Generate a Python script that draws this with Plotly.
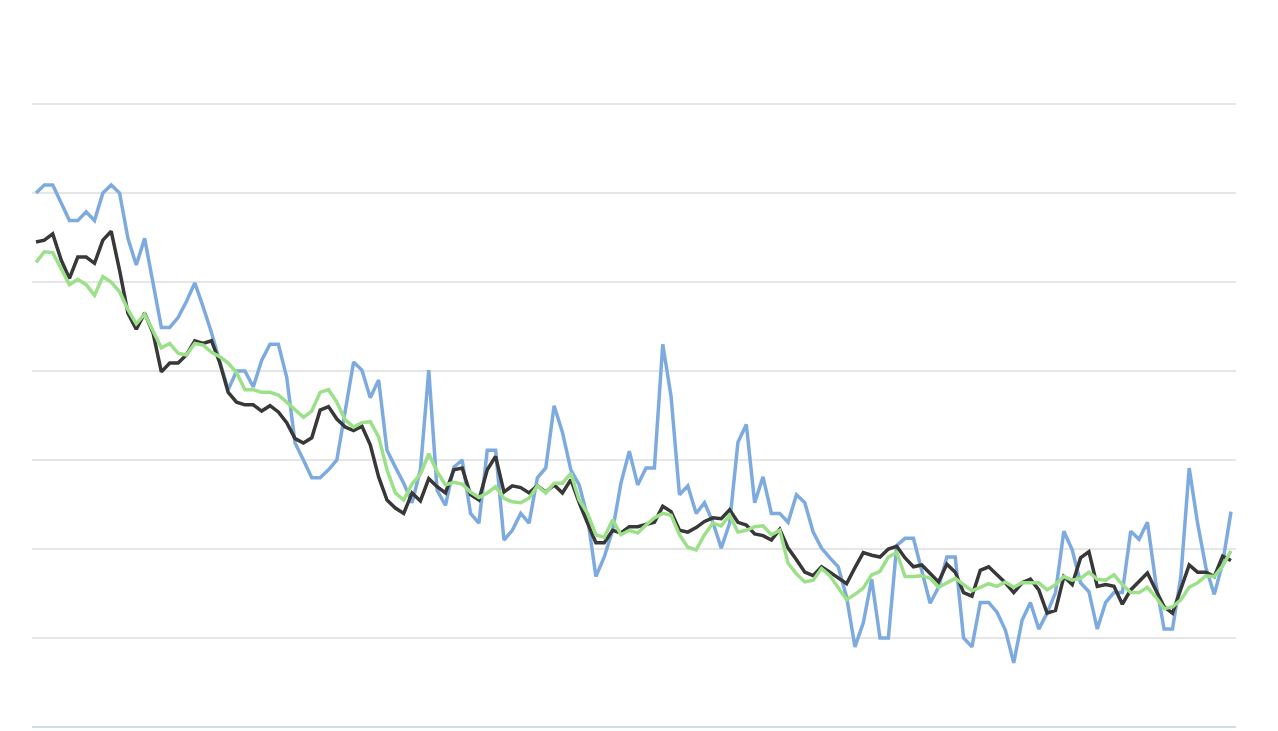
import plotly.graph_objects as go

blue = [60.0, 60.9, 60.9, 58.9, 56.9, 56.9, 57.9, 56.9, 60.0, 60.9, 60.0, 54.9, 51.9, 54.9, 49.9, 44.9,
        44.9, 46.0, 47.8, 49.9, 47.2, 44.3, 41.0, 37.9, 40.0, 40.0, 38.2, 41.2, 43.0, 43.0, 39.3, 31.9,
        30.0, 28.0, 28.0, 28.9, 30.0, 35.6, 41.0, 40.1, 37.0, 39.0, 31.1, 29.2, 27.4, 25.2, 28.9, 40.1,
        26.6, 24.9, 29.2, 30.0, 24.0, 22.9, 31.1, 31.1, 21.0, 22.1, 24.0, 22.9, 28.0, 29.1, 36.1, 33.1,
        28.9, 27.2, 23.6, 16.9, 19.1, 22.1, 27.4, 31.0, 27.2, 29.1, 29.1, 43.0, 37.1, 26.1, 27.1, 24.0,
        25.2, 23.0, 20.1, 22.9, 32.0, 34.0, 25.2, 28.1, 24.0, 24.0, 23.0, 26.1, 25.2, 21.9, 20.1, 19.0,
        18.0, 14.6, 9.0, 11.7, 16.6, 10.0, 10.0, 20.4, 21.2, 21.2, 17.6, 13.9, 15.7, 19.1, 19.1, 10.0,
        9.0, 14.0, 14.0, 12.9, 10.9, 7.2, 12.0, 14.0, 11.0, 12.8, 15.1, 22.0, 19.9, 16.2, 15.2, 11.0,
        14.0, 15.1, 15.1, 22.0, 21.1, 23.0, 16.2, 11.0, 11.0, 16.9, 29.1, 22.9, 17.9, 14.9, 18.4, 24.2]

black = [54.5, 54.7, 55.4, 52.5, 50.4, 52.8, 52.8, 52.1, 54.7, 55.7, 51.3, 46.5, 44.7, 46.5, 44.3, 39.9,
         40.9, 40.9, 41.8, 43.4, 43.1, 43.4, 40.9, 37.6, 36.5, 36.2, 36.2, 35.5, 36.1, 35.4, 34.2, 32.4,
         31.9, 32.5, 35.6, 36.0, 34.6, 33.7, 33.3, 33.8, 31.7, 28.1, 25.5, 24.6, 24.0, 26.3, 25.4, 27.9,
         27.0, 26.3, 28.9, 29.1, 26.1, 25.5, 28.9, 30.4, 26.4, 27.1, 26.9, 26.3, 27.1, 26.4, 27.2, 26.3,
         27.8, 25.2, 22.9, 20.7, 20.7, 22.1, 21.8, 22.5, 22.5, 22.8, 23.0, 24.8, 24.2, 22.1, 21.9, 22.4,
         23.1, 23.5, 23.4, 24.4, 23.0, 22.7, 21.7, 21.5, 21.0, 22.2, 20.1, 18.8, 17.4, 17.0, 18.0, 17.4,
         16.7, 16.1, 17.9, 19.6, 19.3, 19.1, 20.0, 20.3, 19.0, 18.0, 18.2, 17.2, 16.3, 18.3, 17.4, 15.1,
         14.7, 17.6, 18.0, 17.1, 16.2, 15.1, 16.2, 16.6, 15.4, 12.8, 13.1, 16.9, 16.0, 19.0, 19.7, 15.8,
         16.0, 15.8, 13.8, 15.4, 16.3, 17.3, 15.4, 13.5, 12.8, 15.5, 18.2, 17.4, 17.4, 16.9, 19.2, 18.7]

green = [52.2, 53.4, 53.3, 51.5, 49.7, 50.3, 49.7, 48.5, 50.6, 50.0, 48.9, 46.9, 45.3, 46.4, 44.6, 42.6,
         43.1, 42.0, 41.8, 43.1, 42.9, 42.1, 41.6, 40.9, 39.8, 37.9, 37.9, 37.6, 37.6, 37.3, 36.5, 35.6,
         34.8, 35.5, 37.6, 37.9, 36.5, 34.5, 33.7, 34.2, 34.3, 32.6, 28.9, 26.3, 25.5, 27.3, 28.4, 30.7,
         28.7, 27.2, 27.5, 27.3, 26.4, 25.8, 26.3, 27.0, 25.7, 25.3, 25.2, 25.7, 27.1, 26.3, 27.4, 27.4,
         28.5, 25.5, 24.0, 21.6, 21.3, 23.3, 21.6, 22.1, 21.8, 22.7, 23.5, 24.0, 23.8, 21.6, 20.2, 19.9,
         21.6, 22.9, 22.6, 23.8, 21.9, 22.1, 22.5, 22.6, 21.6, 22.1, 18.4, 17.2, 16.3, 16.5, 17.8, 17.0,
         15.7, 14.3, 14.9, 15.6, 17.1, 17.5, 19.1, 19.6, 16.9, 16.9, 17.0, 16.7, 15.7, 16.2, 16.7, 16.0,
         15.3, 15.7, 16.1, 15.8, 16.3, 15.7, 16.2, 16.2, 16.2, 15.4, 16.0, 16.9, 16.5, 16.7, 17.4, 16.6,
         16.5, 17.1, 16.0, 15.1, 15.1, 15.7, 14.6, 13.3, 13.5, 14.3, 15.7, 16.2, 17.0, 16.9, 18.1, 19.8]

periods = list(range(len(blue)))
y_ticks = [0, 10, 20, 30, 40, 50, 60, 70]

fig = go.Figure()
fig.add_trace(go.Scatter(x=periods, y=blue, mode="lines",
                         line=dict(color="#7eabdf", width=3.5), name="series 1"))
fig.add_trace(go.Scatter(x=periods, y=black, mode="lines",
                         line=dict(color="#383838", width=3.5), name="series 2"))
fig.add_trace(go.Scatter(x=periods, y=green, mode="lines",
                         line=dict(color="#9ce189", width=3.5), name="series 3"))

fig.update_layout(
    width=1278, height=731,
    margin=dict(l=32, r=42, t=100, b=4),
    paper_bgcolor="white", plot_bgcolor="white",
    showlegend=False,
    xaxis=dict(range=[-0.48, len(blue) - 1 + 0.6], showgrid=False, zeroline=False,
               showticklabels=False, ticks="", showline=False),
    yaxis=dict(range=[0, 70.45], tickvals=y_ticks, showticklabels=False, ticks="",
               showgrid=True, gridcolor="#e6e6e6", gridwidth=2,
               zeroline=True, zerolinecolor="#d3dbe3", zerolinewidth=2, showline=False),
)

fig.write_html("out.html")
